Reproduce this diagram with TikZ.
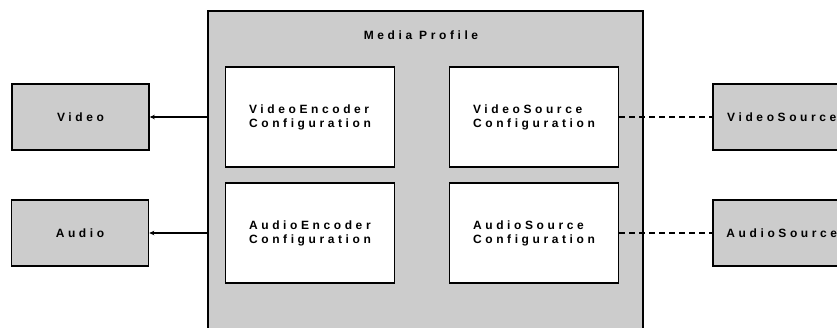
\documentclass[tikz,border=0pt]{standalone}
\usepackage{fontspec}
\newfontfamily\diagfont{Liberation Sans}[BoldFont={Liberation Sans Bold},LetterSpace=30]
\usepackage{tikz}
\usetikzlibrary{arrows.meta,positioning,calc}
\definecolor{boxgray}{RGB}{204,204,204}
\tikzset{
  every node/.style={font=\fontsize{12}{14}\diagfont\bfseries},
  profile/.style={rectangle,draw=black,line width=1.6pt,fill=boxgray,anchor=north west},
  cfgbox/.style={rectangle,draw=black,line width=1.6pt,fill=white,minimum width=169pt,minimum height=100pt,align=left},
  srcbox/.style={rectangle,draw=black,line width=1.6pt,fill=boxgray,minimum height=66pt},
  link/.style={-{Stealth[length=5pt,width=4.5pt]},line width=1.2pt},
  linkdash/.style={line width=1.2pt,dash pattern=on 6pt off 4pt},
}
\begin{document}
\begin{tikzpicture}[x=1pt,y=-1pt]
\useasboundingbox (0,0) rectangle (837,327);
\begin{scope}
\clip (0,0) rectangle (837,327);
% --- Media Profile container ---
\node[profile,minimum width=435pt,minimum height=340pt] (prof) at (207,10) {};
\node (title) at (421,35) {Media Profile};

% configurations
\node[cfgbox] (vecfg) at (310,117) {VideoEncoder\\Configuration};
\node[cfgbox] (aecfg) at (310,233) {AudioEncoder\\Configuration};
\node[cfgbox] (vscfg) at (534,117) {VideoSource\\Configuration};
\node[cfgbox] (ascfg) at (534,233) {AudioSource\\Configuration};

% --- outputs (left) ---
\node[srcbox,minimum width=137pt] (video) at (80.5,117) {Video};
\node[srcbox,minimum width=137pt] (audio) at (80,233) {Audio};
\draw[link] (video.east -| prof.west) -- (video.east);
\draw[link] (audio.east -| prof.west) -- (audio.east);

% --- sources (right) ---
\node[srcbox,minimum width=138pt,anchor=west] (vsrc) at (712,117) {VideoSource};
\node[srcbox,minimum width=138pt,anchor=west] (asrc) at (712,233) {AudioSource};
\draw[linkdash] (vscfg.east) -- (vsrc.west);
\draw[linkdash] (ascfg.east) -- (asrc.west);
\end{scope}
\end{tikzpicture}
\end{document}
